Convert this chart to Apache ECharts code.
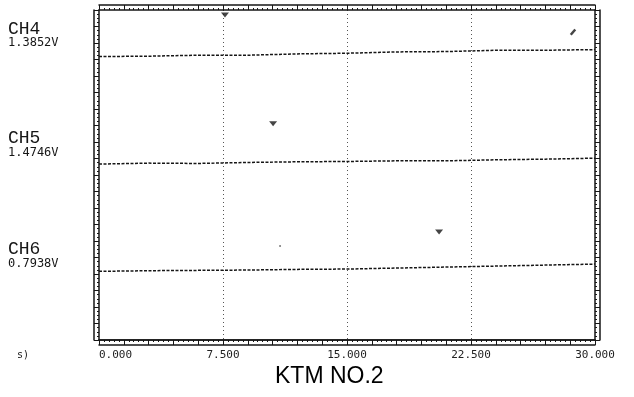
<!DOCTYPE html>
<html>
<head>
<meta charset="utf-8">
<script src="https://cdn.jsdelivr.net/npm/echarts@6/dist/echarts.min.js"></script>
<style>
  html, body { margin: 0; padding: 0; background: #fff; }
  #chart { width: 634px; height: 397px; }
</style>
</head>
<body>
<div id="chart"></div>
<script>
// Time axis, seconds
const timeTicks = [0, 7.5, 15, 22.5, 30];
const timeUnit = 's)';
const caption = 'KTM NO.2';

// Channel names and their voltage readouts
const channelNames = ['CH4', 'CH5', 'CH6'];
const channelReadings = ['1.3852V', '1.4746V', '0.7938V'];

// Trace samples: time (s) and vertical position in screen divisions (0 bottom, 10 top)
const traceTimes = [0, 3, 6, 9, 12, 15, 18, 21, 24, 27, 30];
const ch4Trace = [8.59, 8.60, 8.63, 8.63, 8.67, 8.69, 8.73, 8.74, 8.78, 8.78, 8.80];
const ch5Trace = [5.33, 5.36, 5.35, 5.38, 5.40, 5.41, 5.43, 5.43, 5.46, 5.48, 5.51];
const ch6Trace = [2.08, 2.10, 2.11, 2.12, 2.14, 2.15, 2.18, 2.21, 2.24, 2.27, 2.30];

// Cursor marks: [time, division]
const triangleMarks = [[7.62, 9.85], [10.53, 6.55], [20.57, 3.27]];
const slashMarks = [[28.67, 9.33]];
const dotMarks = [[10.95, 2.85]];

const ink = '#161616';
const pair = (xs, ys) => xs.map((x, i) => [x, ys[i]]);

const chart = echarts.init(document.getElementById('chart'), null, { renderer: 'canvas' });

// Double frame: inner lines carry ruler ticks, outer lines sit 5px further out
const frameAxisX = (position, offset, ticks) => ({
  type: 'value', min: 0, max: 30, interval: 1.5, position, offset,
  axisLine: { show: true, onZero: false, lineStyle: { color: ink, width: 1.5 } },
  axisTick: { show: ticks, inside: false, length: 5, lineStyle: { color: ink, width: 1 } },
  minorTick: { show: ticks, splitNumber: 5, length: 2, lineStyle: { color: ink, width: 1 } },
  axisLabel: { show: false }, splitLine: { show: false }
});
const frameAxisY = (position, offset, ticks) => ({
  type: 'value', min: 0, max: 10, interval: 0.5, position, offset,
  axisLine: { show: true, onZero: false, lineStyle: { color: ink, width: 1.5 } },
  axisTick: { show: ticks, inside: false, length: 5, lineStyle: { color: ink, width: 1 } },
  minorTick: { show: ticks, splitNumber: 4, length: 2, lineStyle: { color: ink, width: 1 } },
  axisLabel: { show: false }, splitLine: { show: false }
});

const traceSeries = (name, ys) => ({
  name, type: 'line', xAxisIndex: 0, yAxisIndex: 0,
  data: pair(traceTimes, ys), symbol: 'none', smooth: false,
  lineStyle: { color: ink, width: 1.5, type: [3, 1.5] }, silent: true
});

const sideText = (text, x, y, size, family) => ({
  type: 'text', left: x, top: y,
  style: { text, fill: ink, font: size + 'px ' + family }
});

chart.setOption({
  animation: false,
  backgroundColor: '#fff',
  title: {
    text: caption, left: 270, top: 360,
    textStyle: { fontFamily: 'Liberation Sans', fontSize: 23, fontWeight: 'normal', color: '#000' }
  },
  grid: { left: 99, right: 39, top: 10, bottom: 57 },
  xAxis: [
    {
      type: 'value', min: 0, max: 30, interval: 7.5, position: 'bottom',
      axisLine: { show: true, onZero: false, lineStyle: { color: ink, width: 1.5 } },
      axisTick: { show: false },
      axisLabel: {
        margin: 10, color: '#222', fontFamily: 'DejaVu Sans Mono', fontSize: 11,
        alignMinLabel: 'left', formatter: v => v.toFixed(3)
      },
      splitLine: { show: true, showMinLine: false, showMaxLine: false,
        lineStyle: { color: '#555', width: 1, type: [1, 3] } }
    },
    frameAxisX('bottom', 0, true),
    frameAxisX('top', 0, true),
    frameAxisX('bottom', 5, false),
    frameAxisX('top', 5, false)
  ],
  yAxis: [
    frameAxisY('left', 0, true),
    frameAxisY('right', 0, true),
    frameAxisY('left', 5, false),
    frameAxisY('right', 5, false)
  ],
  series: [
    traceSeries(channelNames[0], ch4Trace),
    traceSeries(channelNames[1], ch5Trace),
    traceSeries(channelNames[2], ch6Trace),
    { type: 'scatter', data: triangleMarks, symbol: 'triangle', symbolRotate: 180,
      symbolSize: [8, 5], itemStyle: { color: ink }, silent: true },
    { type: 'scatter', data: slashMarks, symbol: 'rect', symbolRotate: -40,
      symbolSize: [2.5, 7], itemStyle: { color: ink }, silent: true },
    { type: 'scatter', data: dotMarks, symbol: 'circle',
      symbolSize: 2, itemStyle: { color: '#555' }, silent: true }
  ],
  graphic: [
    sideText(channelNames[0], 8, 20, 18, 'Liberation Mono'),
    sideText(channelReadings[0], 8, 37, 12, 'DejaVu Sans Mono'),
    sideText(channelNames[1], 8, 129, 18, 'Liberation Mono'),
    sideText(channelReadings[1], 8, 147, 12, 'DejaVu Sans Mono'),
    sideText(channelNames[2], 8, 240, 18, 'Liberation Mono'),
    sideText(channelReadings[2], 8, 258, 12, 'DejaVu Sans Mono'),
    sideText(timeUnit, 17, 350, 10, 'DejaVu Sans Mono')
  ]
});
</script>
</body>
</html>
